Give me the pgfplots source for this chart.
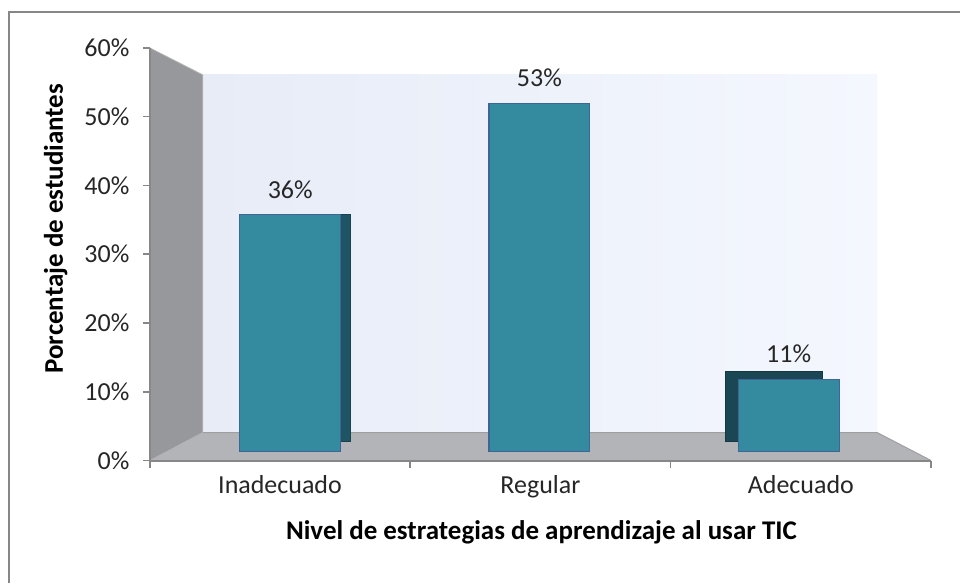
\documentclass[border=0pt]{standalone}
\usepackage{pgfplots}
\pgfplotsset{compat=1.18}
\usepackage{fontspec}
\setmainfont{Carlito}
\definecolor{barfront}{HTML}{348B9F}
\definecolor{barback}{HTML}{1E5464}
\definecolor{barbackdark}{HTML}{1B4654}
\definecolor{barborder}{HTML}{3E6596}
\definecolor{sidewall}{HTML}{97989B}
\definecolor{floorc}{HTML}{B2B4B7}
\definecolor{wallL}{HTML}{E7ECF7}
\definecolor{wallR}{HTML}{F4F7FE}
\definecolor{axisgray}{HTML}{878787}
\definecolor{txt}{HTML}{262626}
\newcommand\lbl{\fontsize{26}{31}\selectfont}
\newcommand\ttl{\fontsize{27}{32}\selectfont}
\begin{document}
\begin{tikzpicture}[x=1pt,y=1pt]
\fill[white] (0,0) rectangle (961,584);
\draw[axisgray, line width=2pt] (9,0) -- (9,572) -- (961,572);
% 3D walls (decoration)
\fill[sidewall] (150,536) -- (203,509) -- (203,151) -- (150,123) -- cycle;
\fill[floorc] (150,123) -- (203,151) -- (878,151) -- (932,123) -- cycle;
\shade[left color=wallL, right color=wallR] (203,151) rectangle (878,509);
\draw[gray!75, line width=1pt] (203,151) -- (878,151) -- (932,123);
\draw[gray!60, line width=0.8pt] (150,536) -- (203,509) -- (203,151) -- (150,123);

% main axis: scale, ticks, labels
\begin{axis}[at={(150pt,123pt)}, anchor=south west, scale only axis,
  width=782pt, height=413pt,
  xmin=0, xmax=3, ymin=0, ymax=60,
  axis x line=bottom, axis y line=left,
  axis line style={axisgray, line width=2pt, -},
  tick style={axisgray, line width=1.5pt},
  tick align=outside, major tick length=7pt,
  ytick={0,10,...,60},
  yticklabel={\pgfmathprintnumber{\tick}\%},
  xtick={0,1,2,3}, xticklabels={},
  extra x ticks={0.5,1.5,2.5},
  extra x tick labels={Inadecuado,Regular,Adecuado},
  extra x tick style={major tick length=0pt},
  tick label style={font=\lbl, text=txt},
  y tick label style={xshift=-10pt},
  x tick label style={yshift=-11pt},
  /pgf/number format/assume math mode=true,
]
\end{axis}

% back faces of the bars
\begin{axis}[at={(184.375pt,142.5pt)}, anchor=south west, scale only axis,
  width=708.75pt, height=378pt,
  xmin=-0.5, xmax=2.5, ymin=0, ymax=60, hide axis, clip=false,
  ybar, bar width=97pt]
\addplot[fill=barback, draw=barback!80!black, line width=0.8pt, bar shift=0pt]
  coordinates {(0,36) (1,53)};
\addplot[fill=barbackdark, draw=barbackdark!80!black, line width=0.8pt, bar shift=0pt]
  coordinates {(2,11)};
\end{axis}

% front faces of the bars
\begin{axis}[at={(165.75pt,132pt)}, anchor=south west, scale only axis,
  width=748.5pt, height=394.8pt,
  xmin=-0.5, xmax=2.5, ymin=0, ymax=60, hide axis, clip=false,
  ybar, bar width=101pt,
  /pgf/number format/assume math mode=true,
  nodes near coords={\pgfmathprintnumber{\pgfplotspointmeta}\%},
  every node near coord/.append style={font=\lbl, text=txt, anchor=center, yshift=25pt},
]
\addplot[fill=barfront, draw=barborder, line width=1.2pt, bar shift=0pt]
  coordinates {(0,36) (1,53) (2,11)};
\end{axis}

\node[font=\ttl\bfseries, text=black, anchor=base] at (542,44) {Nivel de estrategias de aprendizaje al usar TIC};
\node[font=\ttl\bfseries, text=black, anchor=base, rotate=90] at (63,355) {Porcentaje de estudiantes};
\end{tikzpicture}
\end{document}
